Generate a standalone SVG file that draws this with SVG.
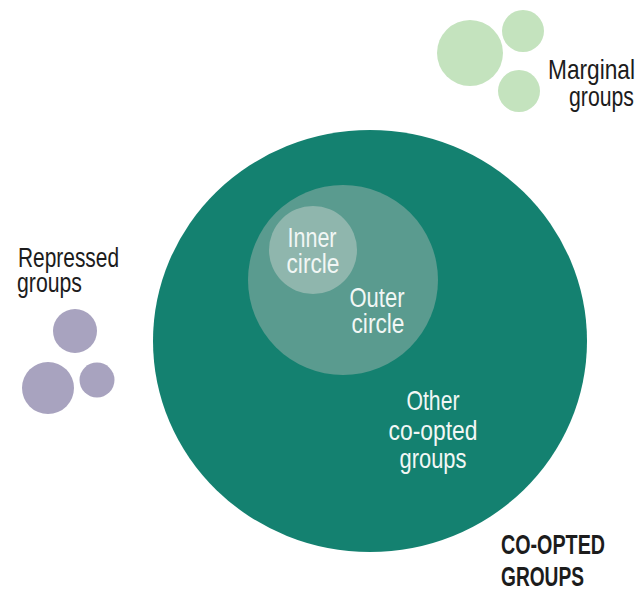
<svg xmlns="http://www.w3.org/2000/svg" width="640" height="589" viewBox="0 0 640 589">
<style>
.t{font-family:"Liberation Sans Narrow","Liberation Sans",Arial,sans-serif;font-size:27.5px;fill:#1c1c1c}
.w{fill:#f2f7f5}
.b{font-weight:bold}
.green{fill:#c4e3be}
.purple{fill:#a8a3bf}
</style>
<rect width="640" height="589" fill="#ffffff"/>
<g id="co-opted">
<ellipse cx="370" cy="341" rx="217" ry="211" fill="#148170"/>
<text class="t w" x="433" y="410" text-anchor="middle" textLength="53" lengthAdjust="spacingAndGlyphs">Other</text>
<text class="t w" x="433" y="440" text-anchor="middle" textLength="89" lengthAdjust="spacingAndGlyphs">co-opted</text>
<text class="t w" x="433" y="468" text-anchor="middle" textLength="67" lengthAdjust="spacingAndGlyphs">groups</text>
<text class="t b" x="501" y="554" textLength="104" lengthAdjust="spacingAndGlyphs">CO-OPTED</text>
<text class="t b" x="501" y="586" textLength="83" lengthAdjust="spacingAndGlyphs">GROUPS</text>
</g>
<g id="outer-circle">
<circle cx="343" cy="280" r="95" fill="#5a9b8f"/>
<text class="t w" x="377" y="307" text-anchor="middle" textLength="55" lengthAdjust="spacingAndGlyphs">Outer</text>
<text class="t w" x="378" y="333" text-anchor="middle" textLength="53" lengthAdjust="spacingAndGlyphs">circle</text>
</g>
<g id="inner-circle">
<circle cx="313" cy="250" r="44" fill="#8fb6ad"/>
<text class="t w" x="312" y="247" text-anchor="middle" textLength="49" lengthAdjust="spacingAndGlyphs">Inner</text>
<text class="t w" x="313" y="273" text-anchor="middle" textLength="53" lengthAdjust="spacingAndGlyphs">circle</text>
</g>
<g id="marginal">
<circle class="green" cx="470" cy="53" r="33"/>
<circle class="green" cx="523" cy="31" r="21"/>
<circle class="green" cx="519" cy="91" r="21"/>
<text class="t" x="635" y="79" text-anchor="end" textLength="87" lengthAdjust="spacingAndGlyphs">Marginal</text>
<text class="t" x="634" y="106" text-anchor="end" textLength="65" lengthAdjust="spacingAndGlyphs">groups</text>
</g>
<g id="repressed">
<circle class="purple" cx="75" cy="331" r="22"/>
<circle class="purple" cx="48" cy="388" r="26"/>
<circle class="purple" cx="97" cy="380" r="17.5"/>
<text class="t" x="18" y="267" textLength="101" lengthAdjust="spacingAndGlyphs">Repressed</text>
<text class="t" x="17" y="292" textLength="65" lengthAdjust="spacingAndGlyphs">groups</text>
</g>
<g id="connectors"/>
</svg>
